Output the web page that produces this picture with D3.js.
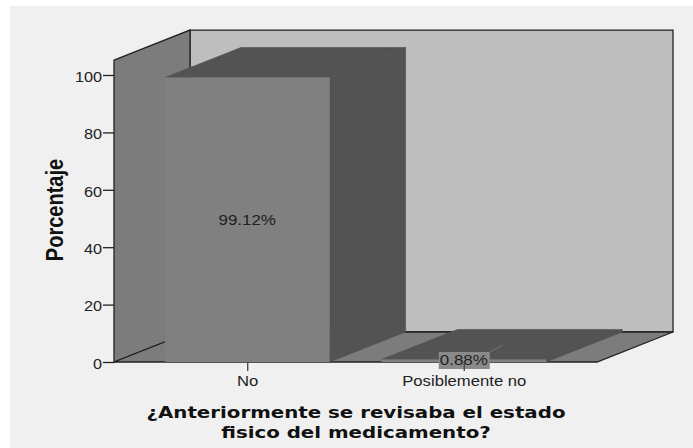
<!DOCTYPE html>
<html>
<head>
<meta charset="utf-8">
<script src="https://cdn.jsdelivr.net/npm/d3@7/dist/d3.min.js"></script>
<style>
html,body{margin:0;padding:0;background:#fff;}
svg{display:block;}
</style>
</head>
<body>
<svg id="chart" width="693" height="448"></svg>
<script>
const categories = ["No", "Posiblemente no"];
const percentages = [99.12, 0.88];
const percentLabels = ["99.12%", "0.88%"];
const yTicks = [0, 20, 40, 60, 80, 100];
const yAxisTitle = "Porcentaje";
const xAxisTitle = ["¿Anteriormente se revisaba el estado", "fisico del medicamento?"];

const svg = d3.select("#chart");
svg.append("rect").attr("x",10).attr("y",6).attr("width",683).attr("height",442).attr("fill","#f0f0f0");

// Oblique projection: the chart box recedes up and to the right.
const depthX = 76, depthY = -30;
const plot = {left:114, right:597, bottom:362, top:75};
const y = d3.scaleLinear().domain([0,100]).range([plot.bottom, plot.top]);
const x = d3.scaleBand().domain(categories).range([plot.left, plot.right]).paddingInner(0.2396).paddingOuter(0.235);
const wallTop = y(105.2);
const poly = pts => pts.map(p=>p.join(",")).join(" ");

// Text in this chart is drawn wide: stretch each string along its own baseline.
function stretch(sel, factor) {
  sel.each(function(){
    this.setAttribute("lengthAdjust","spacingAndGlyphs");
    this.setAttribute("textLength", this.getComputedTextLength()*factor);
  });
  return sel;
}

const INK = "#222";
// Back wall
svg.append("polygon")
  .attr("points", poly([[plot.left+depthX,wallTop+depthY],[plot.right+depthX,wallTop+depthY],[plot.right+depthX,plot.bottom+depthY],[plot.left+depthX,plot.bottom+depthY]]))
  .attr("fill","#bebebe").attr("stroke",INK).attr("stroke-width",1.3);
// Left wall
svg.append("polygon")
  .attr("points", poly([[plot.left,wallTop],[plot.left+depthX,wallTop+depthY],[plot.left+depthX,plot.bottom+depthY],[plot.left,plot.bottom]]))
  .attr("fill","#7c7c7c").attr("stroke",INK).attr("stroke-width",1.3);
// Floor
svg.append("polygon")
  .attr("points", poly([[plot.left,plot.bottom],[plot.right,plot.bottom],[plot.right+depthX,plot.bottom+depthY],[plot.left+depthX,plot.bottom+depthY]]))
  .attr("fill","#7c7c7c").attr("stroke",INK).attr("stroke-width",1.3);

// Bars: side and top faces first, then the front face
const bars = svg.append("g").selectAll("g").data(categories.map((c,i)=>({c,v:percentages[i],label:percentLabels[i]}))).join("g");
bars.each(function(d){
  const g = d3.select(this);
  const x0 = x(d.c), x1 = x0 + x.bandwidth(), yv = y(d.v), y0 = y(0);
  g.append("polygon").attr("fill","#535353").attr("stroke","#535353").attr("stroke-width",0.6)
    .attr("points", poly([[x1,yv],[x1+depthX,yv+depthY],[x1+depthX,y0+depthY],[x1,y0]]));
  g.append("polygon").attr("fill","#535353").attr("stroke","#535353").attr("stroke-width",0.6)
    .attr("points", poly([[x0,yv],[x0+depthX,yv+depthY],[x1+depthX,yv+depthY],[x1,yv]]));
  g.append("rect").attr("x",x0).attr("y",yv).attr("width",x.bandwidth()).attr("height",y0-yv).attr("fill","#808080");
});

// Axes
const axisG = svg.append("g").attr("transform",`translate(${plot.left},0)`)
  .call(d3.axisLeft(y).tickValues(yTicks).tickSize(11).tickPadding(1).tickSizeOuter(0));
axisG.select(".domain").remove();
axisG.selectAll("line").attr("stroke",INK).attr("stroke-width",1.3);
axisG.selectAll("text").attr("font-family","Liberation Sans").attr("font-size",14).attr("dy","0.45em").attr("fill","#222")
  .call(stretch, 1.16);

const xTickG = svg.append("g").attr("transform",`translate(0,${plot.bottom})`)
  .call(d3.axisBottom(d3.scalePoint().domain(categories).range([x(categories[0])+x.bandwidth()/2, x(categories[1])+x.bandwidth()/2])).tickSize(9).tickPadding(5));
xTickG.select(".domain").remove();
xTickG.selectAll("line").attr("stroke","#444").attr("stroke-width",1.3);
xTickG.selectAll("text").attr("font-family","Liberation Sans").attr("font-size",14).attr("fill","#222")
  .call(stretch, 1.19);

// Value labels: centred on the tall bar, on a small plate at the base of the short one
bars.each(function(d){
  const g = d3.select(this);
  const cx = x(d.c)+x.bandwidth()/2;
  const tall = d.v > 50;
  const cy = tall ? y(d.v/2) : y(0)-2;
  if (!tall) {
    g.append("line").attr("x1",cx+26).attr("y1",cy-8).attr("x2",cx+39).attr("y2",cy-15).attr("stroke","#747474").attr("stroke-width",1);
    g.append("rect").attr("x",cx-25).attr("y",cy-8).attr("width",51).attr("height",17).attr("fill","#8a8a8a");
  }
  g.append("text").attr("x",cx).attr("y",cy).attr("dy","0.35em").attr("text-anchor","middle")
    .attr("font-family","Liberation Sans").attr("font-size",14).attr("fill","#222").text(d.label)
    .call(stretch, 1.21);
});

// Axis titles
svg.append("text").attr("transform","translate(63,210) scale(1.15,1) rotate(-90)").attr("text-anchor","middle")
  .attr("font-family","Liberation Sans").attr("font-weight","bold").attr("font-size",20).attr("fill","#111").text(yAxisTitle);
xAxisTitle.forEach((t,i)=>{
  svg.append("text").attr("text-anchor","middle").attr("x",356).attr("y",418+i*19.5)
    .attr("font-family","DejaVu Sans").attr("font-weight","bold").attr("font-size",16).attr("fill","#111").text(t)
    .call(stretch, 1.237);
});
</script>
</body>
</html>
